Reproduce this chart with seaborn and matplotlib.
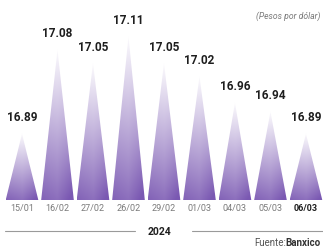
import numpy as np
import matplotlib
matplotlib.use("Agg")
import matplotlib.pyplot as plt
from matplotlib.patches import Polygon
from matplotlib.lines import Line2D
from matplotlib.colors import to_rgb
import seaborn as sns

# exchange rate, pesos per dollar
dates = ["15/01", "16/02", "27/02", "26/02", "29/02", "01/03", "04/03", "05/03", "06/03"]
rates = [16.89, 17.08, 17.05, 17.11, 17.05, 17.02, 16.96, 16.94, 16.89]
year_label = "2024"

sns.set_theme(style="white")
plt.rcParams["font.family"] = ["Roboto", "DejaVu Sans"]

fig = plt.figure(figsize=(3.23, 2.47), dpi=100)
ax = fig.add_axes([0, 0.19, 1, 0.81])

base = 16.74
purple = np.array(to_rgb("#7a58b2"))
white = np.ones(3)

# gradient: purple at the base, fading out towards the tip
ny, nx = 120, 60
t = np.linspace(0, 1, ny)[:, None]
s = np.linspace(-1, 1, nx)[None, :]
fade = np.clip(t ** 1.0 * 0.97, 0, 1)
side = 0.14 * (1 - np.abs(s)) - 0.06 * s
mix = np.clip(fade[..., None] + side[..., None] * (1 - fade[..., None]), 0, 1)
grad = purple * (1 - mix) + white * mix

half = 0.46
for i, v in enumerate(rates):
    tri = Polygon([(i - half, base), (i, v), (i + half, base)], closed=True,
                  facecolor="none", edgecolor="none")
    ax.add_patch(tri)
    im = ax.imshow(grad, extent=[i - half, i + half, base, v], origin="lower",
                   aspect="auto", interpolation="bilinear", zorder=2)
    im.set_clip_path(tri)
    ax.annotate(f"{v:.2f}", (i, v), xytext=(0, 11.5), textcoords="offset points",
                ha="center", va="center", fontsize=8.5, fontweight="bold",
                color="#1e1e1e")

ax.set_xlim(-0.62, 8.48)
ax.set_ylim(base, 17.193)
ax.set_yticks([])
ax.set_xticks(range(len(dates)))
ax.set_xticklabels(dates, fontsize=6.5, color="#7a7a7a")
ax.get_xticklabels()[-1].set_fontweight("bold")
ax.get_xticklabels()[-1].set_color("#1e1e1e")
ax.tick_params(axis="x", length=0, pad=3)
sns.despine(ax=ax, left=True, bottom=True)

# year separator
fig.text(160 / 323, 1 - 232 / 247, year_label, ha="center", va="center",
         fontsize=7.5, fontweight="bold", color="#1e1e1e")
y_line = 1 - 231 / 247
fig.add_artist(Line2D([5 / 323, 135 / 323], [y_line, y_line], color="#9a9a9a", lw=0.8))
fig.add_artist(Line2D([192 / 323, 1], [y_line, y_line], color="#9a9a9a", lw=0.8))

fig.text(320 / 323, 1 - 16 / 247, "(Pesos por dólar)", ha="right", va="center",
         fontsize=6.2, style="italic", color="#7a7a7a")
fig.text(254 / 323, 1 - 243 / 247, "Fuente:", ha="left", va="center",
         fontsize=7, color="#555555")
fig.text(285 / 323, 1 - 243 / 247, "Banxico", ha="left", va="center",
         fontsize=7, fontweight="bold", color="#333333")

fig.savefig("out.png", dpi=100)
